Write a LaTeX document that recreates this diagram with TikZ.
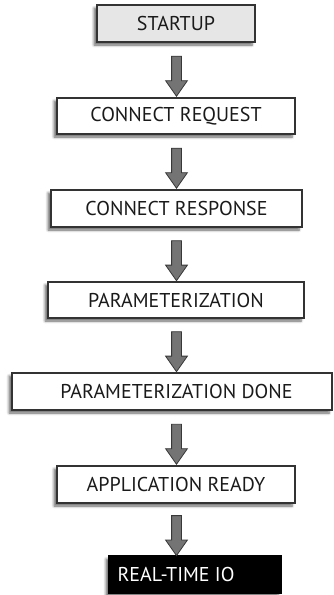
\documentclass[tikz,border=0pt]{standalone}
\usepackage{fontspec}
\setmainfont{PT Sans}
\usetikzlibrary{shapes.arrows,shadows.blur,calc}
\definecolor{txt}{HTML}{1A1A1A}
\definecolor{edge}{HTML}{333333}
\definecolor{arrfill}{HTML}{747474}
\definecolor{arredge}{HTML}{383838}
\definecolor{lightbox}{HTML}{E6E6E6}
\tikzset{
  stagebox/.style={draw=edge, line width=1.1pt, fill=white, text=txt,
    font=\fontsize{20}{22}\selectfont, inner sep=0pt, anchor=center,
    blur shadow={shadow xshift=-3pt, shadow yshift=-3pt, shadow blur steps=6,
      shadow blur radius=2.5pt, shadow opacity=60}},
  bigarrow/.style={single arrow, draw=arredge, fill=arrfill, line width=0.8pt,
    shape border rotate=270, inner sep=4.5pt, minimum height=40pt,
    single arrow head extend=6pt, single arrow tip angle=70, anchor=center}
}
\begin{document}
\begin{tikzpicture}[x=1pt,y=-1pt]
\useasboundingbox (0,0) rectangle (334,595);
\node[stagebox, fill=lightbox, minimum width=158pt, minimum height=37pt] (s1) at (176,23.5) {STARTUP};
\node[stagebox, minimum width=238pt, minimum height=36pt] (s2) at (176,116) {CONNECT REQUEST};
\node[stagebox, minimum width=251pt, minimum height=37pt] (s3) at (176.5,208.5) {CONNECT RESPONSE};
\node[stagebox, minimum width=256pt, minimum height=36pt] (s4) at (176,300) {PARAMETERIZATION};
\node[stagebox, minimum width=320pt, minimum height=37pt] (s5) at (172,391.5) {\hspace*{9pt}PARAMETERIZATION DONE};
\node[stagebox, minimum width=238pt, minimum height=37pt] (s6) at (176,484.5) {APPLICATION READY};
\node[stagebox, fill=black, draw=black, text=white, minimum width=172pt, minimum height=37pt] (s7) at (195,574.5) {REAL-TIME IO\hspace*{38pt}};
\path ($(s1.south)+(0.5,0)$) -- ($(s2.north)+(0.5,0)$) node[bigarrow, pos=0.55] (a1) {};
\path ($(s2.south)+(0.5,0)$) -- ($(s3.north)+(0,0)$) node[bigarrow, pos=0.55] (a2) {};
\path ($(s3.south)+(0,0)$) -- ($(s4.north)+(0.5,0)$) node[bigarrow, pos=0.55] (a3) {};
\path ($(s4.south)+(0.5,0)$) -- ($(s4.south |- s5.north)+(0.5,0)$) node[bigarrow, pos=0.55] (a4) {};
\path ($(s5.south -| s6.south)+(0.5,0)$) -- ($(s6.north)+(0.5,0)$) node[bigarrow, pos=0.55] (a5) {};
\path ($(s6.south)+(0.5,0)$) -- ($(s6.south |- s7.north)+(0.5,0)$) node[bigarrow, pos=0.55] (a6) {};
\end{tikzpicture}
\end{document}
